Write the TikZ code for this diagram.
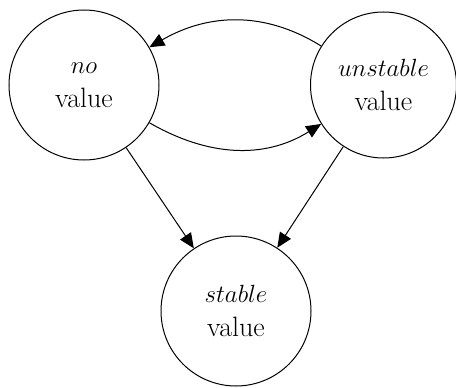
\documentclass[tikz,border=0pt]{standalone}
\usetikzlibrary{arrows.meta}
\begin{document}
\begin{tikzpicture}[x=1pt,y=-1pt,
  state/.style={draw,circle,line width=1pt,minimum size=150pt,inner sep=0pt,
    align=center,font=\fontsize{28}{34}\selectfont},
  edge/.style={line width=1pt,-{Triangle[length=15pt,width=13pt]}}]
  \useasboundingbox (0,0) rectangle (456,388);
  \node[state] (n) at (84,85) {$no$\\value};
  \node[state,minimum size=146pt] (u) at (383.5,85) {$unstable$\\value};
  \node[state] (s) at (236,311) {$stable$\\value};
  \draw[edge] (u) to[out=148,in=30] (n);
  \draw[edge] (n) to[out=-30,in=-148] (u);
  \draw[edge] (n) -- (s);
  \draw[edge] (u) -- (s);
\end{tikzpicture}
\end{document}
